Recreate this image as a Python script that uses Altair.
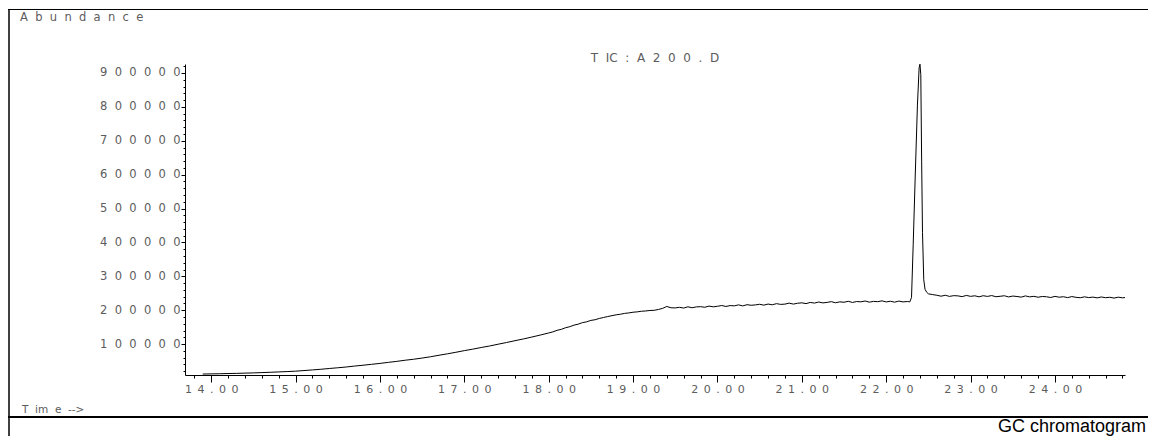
import altair as alt
import pandas as pd

# ---------------- data ----------------
rise_time = [13.9, 14.0, 14.1, 14.2, 14.3, 14.4, 14.5, 14.6, 14.7, 14.8, 14.9,
             15.0, 15.1, 15.2, 15.3, 15.4, 15.5, 15.6, 15.7, 15.8, 15.9,
             16.0, 16.1, 16.2, 16.3, 16.4, 16.5, 16.6, 16.7, 16.8, 16.9,
             17.0, 17.1, 17.2, 17.3, 17.4, 17.5, 17.6, 17.7, 17.8, 17.9, 18.0]
rise_abund = [11800, 12300, 12700, 13300, 13800, 14500, 15200, 16100, 17000, 18100, 19100,
              20300, 22100, 24000, 25900, 28200, 30300, 32600, 35400, 37800, 40500,
              43200, 46300, 49200, 52600, 55500, 59000, 62800, 67300, 71500, 76000,
              80900, 85200, 90100, 94600, 99800, 104800, 110200, 115300, 121000, 126800, 133000]

plateau_time = [18.05, 18.10, 18.15, 18.20, 18.25, 18.30, 18.35, 18.40, 18.45, 18.50,
                18.55, 18.60, 18.65, 18.70, 18.75, 18.80, 18.85, 18.90, 18.95, 19.00,
                19.05, 19.10, 19.15, 19.20, 19.25, 19.30, 19.35, 19.40, 19.45, 19.50,
                19.55, 19.60, 19.65, 19.70, 19.75, 19.80, 19.85, 19.90, 19.95, 20.00,
                20.05, 20.10, 20.15, 20.20, 20.25, 20.30, 20.35, 20.40, 20.45, 20.50,
                20.55, 20.60, 20.65, 20.70, 20.75, 20.80, 20.85, 20.90, 20.95, 21.00,
                21.05, 21.10, 21.15, 21.20, 21.25, 21.30, 21.35, 21.40, 21.45, 21.50,
                21.55, 21.60, 21.65, 21.70, 21.75, 21.80, 21.85, 21.90, 21.95, 22.00,
                22.05, 22.10, 22.15, 22.20, 22.25]
plateau_abund = [136200, 140900, 143700, 148400, 151500, 156100, 159000, 163500, 165800, 170100,
                 172000, 175900, 178600, 181500, 184100, 186600, 188300, 190800, 192100, 194200,
                 195300, 197100, 197900, 199400, 199800, 202300, 205600, 211200, 207300, 206900,
                 208600, 206500, 210200, 207400, 209900, 210600, 208800, 212300, 210100, 211700,
                 214000, 211200, 213800, 213000, 215900, 212800, 216400, 214700, 215800, 217600,
                 215100, 218300, 216200, 219500, 217300, 218100, 221000, 218200, 220700, 221900,
                 219600, 223100, 221200, 224300, 221700, 223200, 225400, 222100, 224800, 223600,
                 226400, 223000, 225700, 224900, 227300, 223900, 226200, 225300, 227800, 224500,
                 226600, 223900, 227100, 224600, 225800]

peak_time = [22.28, 22.30, 22.32, 22.345, 22.37, 22.39, 22.40, 22.41, 22.42, 22.43,
             22.445, 22.46, 22.48, 22.50, 22.55, 22.60]
peak_abund = [224800, 238000, 395000, 605000, 805000, 915000, 926000, 895000, 640000, 430000,
              290000, 262000, 253000, 248500, 246200, 244300]

tail_time = [22.65, 22.70, 22.75, 22.80, 22.85, 22.90, 22.95, 23.00, 23.05, 23.10,
             23.15, 23.20, 23.25, 23.30, 23.35, 23.40, 23.45, 23.50, 23.55, 23.60,
             23.65, 23.70, 23.75, 23.80, 23.85, 23.90, 23.95, 24.00, 24.05, 24.10,
             24.15, 24.20, 24.25, 24.30, 24.35, 24.40, 24.45, 24.50, 24.55, 24.60,
             24.65, 24.70, 24.75, 24.80, 24.83]
tail_abund = [241500, 244200, 240900, 243100, 242400, 240200, 243800, 241000, 242700, 239600,
              242900, 240800, 243400, 239900, 241200, 242800, 239300, 241900, 240600, 238700,
              242300, 239500, 241100, 238400, 240700, 239800, 237600, 241000, 238500, 239900,
              237300, 240400, 238100, 236900, 239600, 237400, 238800, 236500, 239200, 237000,
              238300, 235900, 238600, 236700, 237500]

x_major_ticks = [14, 15, 16, 17, 18, 19, 20, 21, 22, 23, 24]
x_minor_ticks = [round(13.8 + 0.2 * i, 1) for i in range(56)]
y_major_ticks = [100000, 200000, 300000, 400000, 500000, 600000, 700000, 800000, 900000]
y_minor_ticks = [20000 * i for i in range(1, 47)]

title_parts = ["T", "IC", ":", "A", "2", "0", "0", ".", "D"]
y_caption = "Abundance"
x_caption = "T\u00a0\u00a0im\u00a0\u00a0e\u00a0\u00a0-->"
footer = "GC chromatogram"

# ---------------- chart ----------------
df = pd.DataFrame({
    "time": rise_time + plateau_time + peak_time + tail_time,
    "abundance": rise_abund + plateau_abund + peak_abund + tail_abund,
})
one = pd.DataFrame({"k": [0]})

NB2 = "\u00a0\u00a0"
def spaced(parts):
    return NB2.join(list(parts))

FONT = "DejaVu Sans"
GRAY = "#5c5c5c"
W, H = 940, 311

x_scale = alt.Scale(domain=[13.69, 24.83], nice=False, zero=False)
y_scale = alt.Scale(domain=[9000, 926500], nice=False, zero=False)

x_major = alt.Axis(orient="bottom", values=x_major_ticks, title=None, grid=False,
                   labelExpr="join(split(format(datum.value, '.2f'), ''), '\u2002')",
                   tickSize=7, tickColor="black", tickWidth=1,
                   domainColor="black", domainWidth=1,
                   labelFont=FONT, labelFontSize=11, labelColor=GRAY,
                   labelPadding=1, labelOverlap=False, labelFlush=False)
x_minor = alt.Axis(orient="bottom", values=x_minor_ticks, title=None, grid=False,
                   labels=False, domain=False, tickSize=3, tickColor="black", tickWidth=1)
y_major = alt.Axis(orient="left", values=y_major_ticks, title=None, grid=False,
                   labelExpr="join(split(format(datum.value, 'd'), ''), '" + NB2 + "')",
                   tickSize=4, tickColor="black", tickWidth=1,
                   domainColor="black", domainWidth=1,
                   labelFont=FONT, labelFontSize=11.5, labelColor=GRAY,
                   labelPadding=1, labelOverlap=False, labelFlush=False)
y_minor = alt.Axis(orient="left", values=y_minor_ticks, title=None, grid=False,
                   labels=False, domain=False, tickSize=2, tickColor="black", tickWidth=1)

trace = alt.Chart(df).mark_line(color="black", strokeWidth=1).encode(
    x=alt.X("time:Q", scale=x_scale, axis=x_major),
    y=alt.Y("abundance:Q", scale=y_scale, axis=y_major),
)
minor = alt.Chart(df).mark_line(opacity=0).encode(
    x=alt.X("time:Q", scale=x_scale, axis=x_minor),
    y=alt.Y("abundance:Q", scale=y_scale, axis=y_minor),
)

def hrule(y, x1, x2, w):
    return alt.Chart(one).mark_rule(color="black", strokeWidth=w).encode(
        x=alt.value(x1), x2=alt.value(x2), y=alt.value(y))

def vrule(x, y1, y2, w):
    return alt.Chart(one).mark_rule(color="black", strokeWidth=w).encode(
        x=alt.value(x), y=alt.value(y1), y2=alt.value(y2))

frame_top = hrule(-54.5, -177, 963, 1.2)
frame_left = vrule(-176, -55, 372, 1.5)
divider = hrule(353, -177, 963, 2)

def label(text, x, y, size, color=GRAY, align="left", font=FONT, baseline="middle"):
    return alt.Chart(one).mark_text(text=text, font=font, fontSize=size, color=color,
                                    align=align, baseline=baseline).encode(
        x=alt.value(x), y=alt.value(y))

abund_lbl = label(spaced(y_caption), -165, -46.5, 11.5)
title_lbl = label(spaced(title_parts), W / 2, -6, 12, align="center")
time_lbl = label(x_caption, -163, 346, 10.5)
footer_lbl = label(footer, 961, 368, 18, color="black", align="right",
                   font="Liberation Sans", baseline="alphabetic")

chart = alt.layer(
    minor, trace, frame_top, frame_left, divider,
    abund_lbl, title_lbl, time_lbl, footer_lbl,
).resolve_axis(x="independent", y="independent").properties(
    width=W, height=H,
    padding={"left": 177, "top": 56, "right": 23, "bottom": 61},
    autosize=alt.AutoSizeParams(type="none"),
    background="white",
).configure_view(stroke=None)

chart.save("out.html", embed_options={"renderer": "svg", "actions": False})
